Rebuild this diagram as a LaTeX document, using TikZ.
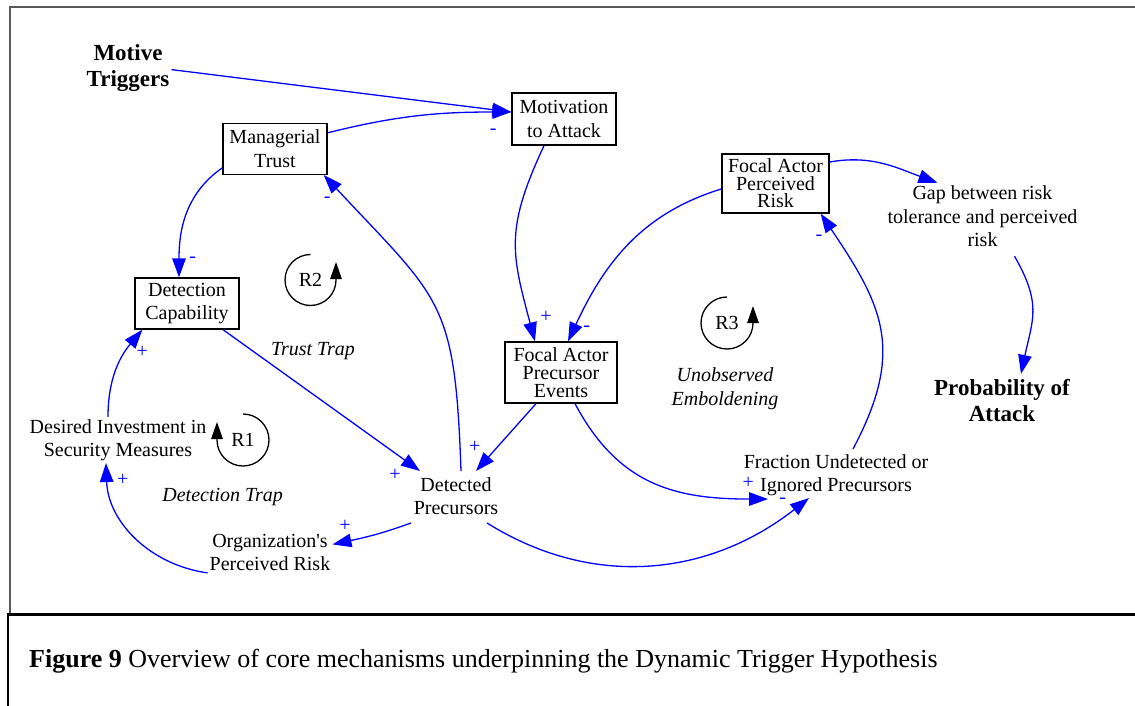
\documentclass[tikz,border=0pt]{standalone}
\usepackage{fontspec}
\setmainfont{Liberation Serif}
\usetikzlibrary{arrows.meta}

\begin{document}
\begin{tikzpicture}[x=1pt, y=-1pt,
            every node/.style={inner sep=2pt, align=center, font=\fontsize{20}{23.5}\selectfont},
            box/.style={draw, line width=1.3pt, inner sep=0pt},
            tallbox/.style={box, font=\fontsize{20}{17.5}\selectfont},
            bigtext/.style={font=\fontsize{23}{26}\selectfont\bfseries},
            trap/.style={font=\fontsize{20}{23.5}\selectfont\itshape},
            link/.style={draw=blue, line width=1.3pt, -{Triangle[length=19pt,width=13.5pt]}},
            signlabel/.style={text=blue, inner sep=0pt},
            loopline/.style={line width=1.3pt, -{Triangle[length=17pt,width=11.5pt]}}]
            \useasboundingbox (0,0) rectangle (1135,706);

            \draw[black!65, line width=2pt] (9,7) -- (1135,7);
            \draw[black!65, line width=1.5pt] (10,7) -- (10,613);
            \draw[line width=3.5pt] (7,614.5) -- (1135,614.5);
            \draw[line width=2pt] (8,614) -- (8,706);

            \node[bigtext] (mot) at (128, 67.6) {Motive\\Triggers};
            \node[box, minimum width=104pt, minimum height=52pt] (ma) at (564, 119) {Motivation\\to Attack};
            \node[box, minimum width=104pt, minimum height=51pt] (mt) at (275, 148.8) {Managerial\\Trust};
            \node[tallbox, minimum width=107pt, minimum height=59pt] (fapr) at (775.5, 183.5) {Focal Actor\\Perceived\\Risk};
            \node (gap) at (982.5, 216.5) {Gap between risk\\tolerance and perceived\\risk};
            \node[box, minimum width=104pt, minimum height=51pt] (dc) at (187, 303.5) {Detection\\Capability};
            \node[tallbox, font=\fontsize{20}{18}\selectfont, minimum width=112pt, minimum height=61pt] (fape) at (561, 372.5) {Focal Actor\\Precursor\\Events};
            \node (dp) at (456, 496) {Detected\\Precursors};
            \node (fuip) at (836, 475) {Fraction Undetected or\\Ignored Precursors};
            \node (di) at (118, 440) {Desired Investment in\\Security Measures};
            \node (org) at (270, 552.4) {Organization\textquotesingle s\\Perceived Risk};
            \node[bigtext] (poa) at (1002, 400.3) {Probability of\\Attack};

            \node[trap] (ue) at (725, 388.7) {Unobserved\\Emboldening};
            \node[trap] (tt) at (313, 351.5) {Trust Trap};
            \node[trap] (dt) at (222.7, 497) {Detection Trap};

            \node (r1) at (243, 440) {R1};
            \node (r2) at (310.5, 280) {R2};
            \node (r3) at (727, 323) {R3};
            \draw[loopline] ([yshift=26pt]r1.center) arc[start angle=90, end angle=-180, radius=26pt] -- ++(0pt,18pt);
            \draw[loopline] ([yshift=25.5pt]r2.center) arc[start angle=90, end angle=360, radius=25.5pt] -- ++(0pt,18pt);
            \draw[loopline] ([yshift=26pt]r3.center) arc[start angle=90, end angle=360, radius=26pt] -- ++(0pt,17pt);

            \draw[link] ([yshift=-2pt]mot.east) -- ([yshift=7pt]ma.west);
            \draw[link] ([yshift=16pt]mt.east) to[out=14, in=180] ([yshift=7pt]ma.west);
            \draw[link] ([yshift=-19pt]mt.west) to[out=215, in=90] ([xshift=-8pt]dc.north);
            \draw[link] ([xshift=5pt,yshift=4pt]dp.north) to[out=92, in=-47, looseness=1.35] ([xshift=-4pt]mt.south east);
            \draw[link] ([xshift=36pt]dc.south) -- ([xshift=-36pt,yshift=4pt]dp.north);
            \draw[link] ([xshift=-25pt]fape.south) -- ([xshift=20pt,yshift=4pt]dp.north);
            \draw[link] ([xshift=-20pt]ma.south) to[out=245, in=105, looseness=1.2] ([xshift=-26pt]fape.north);
            \draw[link] ([yshift=-5.5pt]fapr.west) to[out=197, in=65] ([xshift=7pt]fape.north);
            \draw[link] ([yshift=21.5pt]fapr.east) to[out=10, in=160] ([xshift=-45pt,yshift=1pt]gap.north);
            \draw[link] ([xshift=32pt,yshift=-7pt]gap.south) to[out=-60, in=78, looseness=1.2] ([xshift=19pt,yshift=3pt]poa.north);
            \draw[link] ([xshift=17pt,yshift=3pt]fuip.north) to[out=62, in=-56, looseness=1.2] ([xshift=-9pt]fapr.south east);
            \draw[link] ([xshift=14pt]fape.south) to[out=-62, in=180, looseness=1.1] ([xshift=-68pt,yshift=-1pt]fuip.south);
            \draw[link] ([xshift=31pt,yshift=-6pt]dp.south) to[out=-32, in=-142] ([xshift=-27pt]fuip.south);
            \draw[link] ([xshift=-45pt,yshift=-6pt]dp.south) to[out=200, in=12] ([yshift=8pt]org.east);
            \draw[link] ([yshift=-20.5pt]org.west) to[out=172, in=-88] ([xshift=-12pt]di.south);
            \draw[link] ([xshift=-10pt]di.north) to[out=90, in=-130] ([xshift=8pt]dc.south west);

            \node[signlabel] (s1) at (493.3, 131.7) {-};
            \node[signlabel] (s2) at (192.7, 260) {-};
            \node[signlabel] (s3) at (327.3, 200) {-};
            \node[signlabel] (s4) at (395, 475) {+};
            \node[signlabel] (s5) at (474.7, 446.7) {+};
            \node[signlabel] (s6) at (546, 316.7) {+};
            \node[signlabel] (s7) at (586.7, 328.3) {-};
            \node[signlabel] (s8) at (819, 237.3) {-};
            \node[signlabel] (s9) at (748.3, 483.3) {+};
            \node[signlabel] (s10) at (782.7, 501) {-};
            \node[signlabel] (s11) at (345, 526) {+};
            \node[signlabel] (s12) at (122.7, 480) {+};
            \node[signlabel] (s13) at (142.3, 351.7) {+};

            \node[anchor=base west, inner sep=0pt, font=\fontsize{26}{30}\selectfont] (cap) at (29, 667) {\textbf{Figure 9} Overview of core mechanisms underpinning the Dynamic Trigger Hypothesis};
        \end{tikzpicture}
\end{document}
